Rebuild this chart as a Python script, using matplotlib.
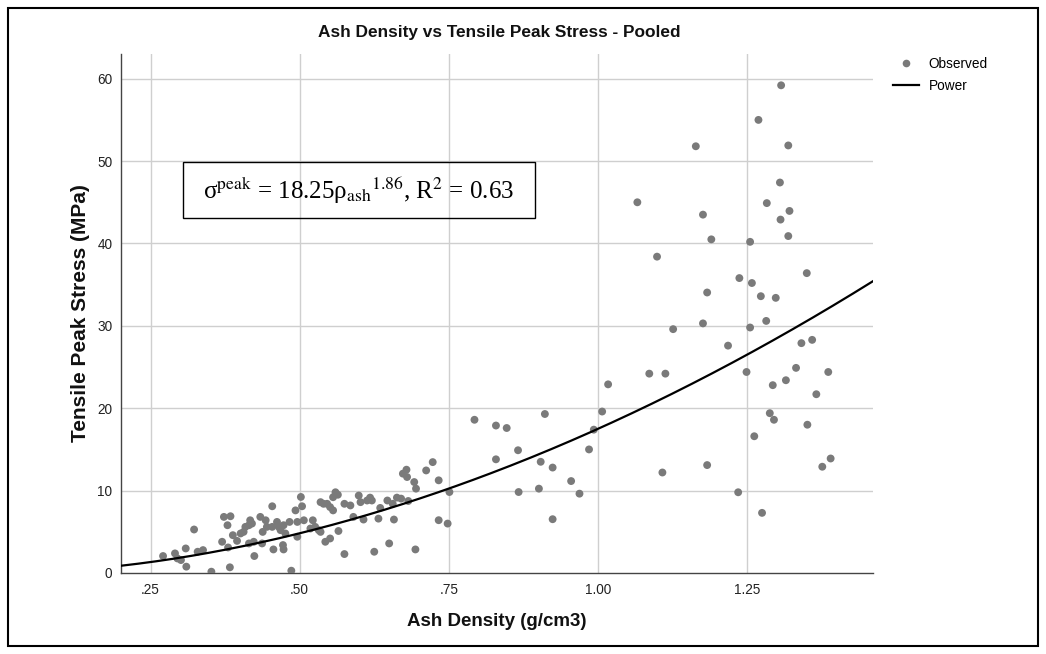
import numpy as np
import matplotlib
matplotlib.use("Agg")
import matplotlib.pyplot as plt
from matplotlib.lines import Line2D
from matplotlib.patches import Rectangle

# ---- data ----
ash_density = [
    0.271, 0.291, 0.295, 0.301, 0.309, 0.310, 0.323, 0.329, 0.338, 0.352,
    0.370, 0.373, 0.384, 0.379, 0.383, 0.380, 0.388, 0.395,
    0.401, 0.406, 0.409, 0.415, 0.417, 0.420, 0.415, 0.424, 0.423, 0.434,
    0.438, 0.437, 0.443, 0.445, 0.454, 0.454, 0.456, 0.462, 0.465, 0.468,
    0.472, 0.473, 0.473, 0.476, 0.483, 0.486, 0.493, 0.496, 0.496, 0.502,
    0.504, 0.507, 0.518, 0.522, 0.526, 0.532, 0.535, 0.540, 0.546, 0.551,
    0.556, 0.556, 0.560, 0.564,
    0.535, 0.543, 0.551, 0.565, 0.575, 0.575, 0.585, 0.590, 0.599, 0.602,
    0.607, 0.613, 0.618, 0.621, 0.625, 0.632, 0.635, 0.647, 0.650, 0.658,
    0.656, 0.663, 0.670, 0.673, 0.679, 0.680, 0.682, 0.692, 0.695, 0.694,
    0.712, 0.723, 0.733, 0.733, 0.748, 0.751,
    0.793, 0.829, 0.847, 0.829, 0.866, 0.867, 0.901, 0.904, 0.911, 0.924,
    0.924, 0.955, 0.969, 0.985, 0.993, 1.007, 1.017,
    1.307, 1.269, 1.164, 1.319, 1.305, 1.066, 1.283, 1.321, 1.176, 1.306,
    1.190, 1.255, 1.319, 1.099, 1.350, 1.237, 1.258, 1.183, 1.273, 1.298,
    1.282, 1.176, 1.126, 1.255, 1.218, 1.341, 1.359, 1.332, 1.386, 1.249,
    1.086, 1.113, 1.315, 1.293, 1.366, 1.288, 1.295, 1.351, 1.262, 1.390,
    1.376, 1.183, 1.108, 1.235, 1.275,
]
peak_stress = [
    2.06, 2.38, 1.77, 1.57, 2.98, 0.77, 5.28, 2.58, 2.78, 0.16,
    3.79, 6.81, 6.89, 5.80, 0.69, 3.10, 4.59, 3.90,
    4.80, 4.99, 5.60, 5.80, 6.40, 6.00, 3.59, 2.06, 3.79, 6.81,
    4.99, 3.59, 6.40, 5.60, 8.10, 5.60, 2.86, 6.20, 5.60, 5.20,
    3.39, 2.86, 5.80, 4.80, 6.20, 0.28, 7.60, 6.20, 4.40, 9.23,
    8.10, 6.40, 5.40, 6.40, 5.60, 5.20, 8.60, 8.40, 8.40, 8.00,
    7.60, 9.20, 9.80, 9.50,
    4.99, 3.79, 4.19, 5.10, 2.30, 8.40, 8.20, 6.81, 9.40, 8.60,
    6.49, 8.80, 9.15, 8.80, 2.58, 6.60, 7.90, 8.80, 3.59, 6.49,
    8.40, 9.15, 9.03, 12.06, 12.54, 11.65, 8.74, 11.04, 10.24, 2.86,
    12.45, 13.46, 11.25, 6.41, 6.00, 9.83,
    18.6, 17.9, 17.6, 13.8, 14.9, 9.83, 10.24, 13.5, 19.3, 12.8,
    6.53, 11.16, 9.63, 15.0, 17.4, 19.6, 22.9,
    59.2, 55.0, 51.8, 51.9, 47.4, 45.0, 44.9, 43.95, 43.5, 42.9,
    40.5, 40.2, 40.9, 38.4, 36.4, 35.8, 35.2, 34.05, 33.6, 33.4,
    30.6, 30.3, 29.6, 29.8, 27.6, 27.9, 28.3, 24.9, 24.4, 24.4,
    24.2, 24.2, 23.4, 22.8, 21.7, 19.4, 18.6, 18.0, 16.6, 13.9,
    12.9, 13.1, 12.2, 9.8, 7.3,
]
power_coef = 17.5
power_exp = 1.86
x_ticks = [0.25, 0.50, 0.75, 1.00, 1.25]
x_tick_labels = [".25", ".50", ".75", "1.00", "1.25"]
y_ticks = [0, 10, 20, 30, 40, 50, 60]

font = "Liberation Sans"

W, H = 1046, 654
plt.rcParams["mathtext.fontset"] = "stix"
fig = plt.figure(figsize=(W / 100, H / 100), dpi=100)
fig.patch.set_facecolor("white")

def fx(px):
    return px / W

def fy(py):
    return 1 - py / H

ax = fig.add_axes([fx(120.7), fy(573), fx(873) - fx(120.7), fy(54) - fy(573)])
ax.set_xlim(0.2, 1.461)
ax.set_ylim(0, 63)

for t in x_ticks:
    ax.axvline(t, color="#cfcfcf", lw=1.0, zorder=0)
for t in y_ticks[1:]:
    ax.axhline(t, color="#cfcfcf", lw=1.0, zorder=0)

ax.scatter(ash_density, peak_stress, s=32, color="#7a7a7a", edgecolors="none",
           zorder=3)
xs = np.linspace(0.2, 1.461, 300)
ax.plot(xs, power_coef * xs ** power_exp, color="black", lw=1.6, zorder=4)

ax.set_xticks(x_ticks)
ax.set_xticklabels(x_tick_labels)
ax.set_yticks(y_ticks)
ax.tick_params(length=0, labelsize=9.8, pad=7, colors="#222222")
ax.tick_params(axis="y", pad=6)
for lbl in ax.get_xticklabels() + ax.get_yticklabels():
    lbl.set_family(font)
for s in ["top", "right"]:
    ax.spines[s].set_visible(False)
for s in ["left", "bottom"]:
    ax.spines[s].set_color("#444444")
    ax.spines[s].set_linewidth(1.0)

fig.text(fx(499), fy(33), "Ash Density vs Tensile Peak Stress - Pooled",
         ha="center", va="center", fontsize=12.4, fontweight="bold",
         family=font, color="#111111")
fig.text(fx(497), fy(621), "Ash Density (g/cm3)", ha="center", va="center",
         fontsize=13.5, fontweight="bold", family=font, color="#111111")
fig.text(fx(80), fy(313), "Tensile Peak Stress (MPa)", ha="center",
         va="center", rotation=90, fontsize=15, fontweight="bold",
         family=font, color="#111111")

# equation box
fig.patches.append(Rectangle((fx(183), fy(218)), fx(535) - fx(183),
                             fy(162) - fy(218), transform=fig.transFigure,
                             fill=False, edgecolor="black", lw=1.0))
fig.text(fx(359), fy(190),
         "σ$^{\\mathrm{peak}}$ = 18.25ρ$_{\\mathrm{ash}}$$^{1.86}$, R$^{2}$ = 0.63",
         ha="center", va="center", fontsize=18, family="Liberation Serif")

# legend
handles = [
    Line2D([], [], marker="o", linestyle="none", markersize=5.5,
           markerfacecolor="#7a7a7a", markeredgecolor="none", label="Observed"),
    Line2D([], [], color="black", lw=1.6, label="Power"),
]
fig.legend(handles=handles, loc="upper left",
           bbox_to_anchor=(fx(893), fy(57)), frameon=False,
           handlelength=1.9, handletextpad=0.7, labelspacing=0.6,
           borderaxespad=0, borderpad=0, prop={"family": font, "size": 9.8})

# outer frame
fig.patches.append(Rectangle((fx(8), fy(646)), fx(1038) - fx(8),
                             fy(8) - fy(646), transform=fig.transFigure,
                             fill=False, edgecolor="black", lw=1.5))

fig.savefig("out.png", dpi=100)
